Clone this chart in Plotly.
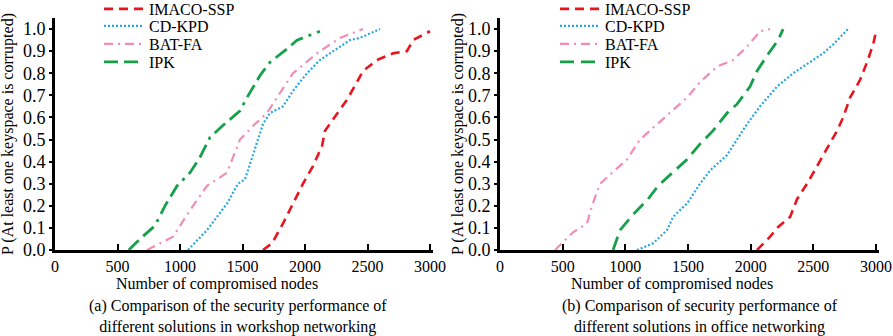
import plotly.graph_objects as go

# ---- data: P(at least one keyspace is corrupted) vs. compromised nodes ----
series_names = ["IMACO-SSP", "CD-KPD", "BAT-FA", "IPK"]

# (a) workshop networking
a_imaco_x = [1664, 1736, 1824, 1904, 1984, 2064, 2136, 2160, 2224, 2336, 2416, 2464, 2576, 2704, 2816, 2864, 3000]
a_imaco_y = [0.00, 0.03, 0.12, 0.21, 0.30, 0.38, 0.47, 0.54, 0.59, 0.68, 0.76, 0.81, 0.86, 0.89, 0.90, 0.95, 0.99]
a_cdkpd_x = [1064, 1216, 1376, 1464, 1520, 1584, 1664, 1720, 1824, 1904, 2016, 2120, 2360, 2440, 2600]
a_cdkpd_y = [0.00, 0.09, 0.21, 0.30, 0.32, 0.43, 0.57, 0.62, 0.65, 0.72, 0.80, 0.86, 0.95, 0.96, 1.00]
a_batfa_x = [736, 944, 1080, 1216, 1376, 1440, 1480, 1600, 1696, 1776, 1904, 2096, 2280, 2464]
a_batfa_y = [0.00, 0.06, 0.18, 0.29, 0.35, 0.44, 0.50, 0.57, 0.62, 0.69, 0.80, 0.89, 0.96, 1.00]
a_ipk_x = [590, 680, 800, 880, 976, 1080, 1160, 1240, 1336, 1480, 1536, 1640, 1720, 1856, 1936, 2120]
a_ipk_y = [0.00, 0.05, 0.11, 0.20, 0.29, 0.35, 0.42, 0.51, 0.56, 0.63, 0.69, 0.79, 0.85, 0.91, 0.95, 0.99]

# (b) office networking
b_imaco_x = [2051, 2155, 2211, 2315, 2370, 2450, 2530, 2622, 2690, 2738, 2793, 2873, 2929, 2977, 3005]
b_imaco_y = [0.00, 0.06, 0.10, 0.15, 0.23, 0.30, 0.38, 0.47, 0.54, 0.60, 0.69, 0.77, 0.85, 0.93, 1.00]
b_cdkpd_x = [1093, 1221, 1333, 1381, 1492, 1596, 1676, 1812, 1891, 1971, 2075, 2211, 2339, 2474, 2578, 2658, 2777]
b_cdkpd_y = [0.00, 0.03, 0.09, 0.15, 0.21, 0.30, 0.36, 0.43, 0.50, 0.57, 0.65, 0.74, 0.80, 0.85, 0.89, 0.93, 1.00]
b_batfa_x = [439, 583, 694, 734, 798, 934, 1014, 1117, 1253, 1413, 1492, 1596, 1732, 1860, 1971, 2075, 2155]
b_batfa_y = [0.00, 0.08, 0.12, 0.20, 0.30, 0.37, 0.41, 0.50, 0.57, 0.65, 0.69, 0.76, 0.83, 0.86, 0.92, 0.99, 1.00]
b_ipk_x = [902, 958, 1061, 1181, 1261, 1380, 1492, 1596, 1700, 1812, 1891, 1995, 2051, 2131, 2219, 2259]
b_ipk_y = [0.00, 0.09, 0.16, 0.23, 0.29, 0.35, 0.41, 0.48, 0.54, 0.62, 0.66, 0.74, 0.81, 0.88, 0.95, 1.00]

x_ticks = [0, 500, 1000, 1500, 2000, 2500, 3000]
y_ticks = [0.0, 0.1, 0.2, 0.3, 0.4, 0.5, 0.6, 0.7, 0.8, 0.9, 1.0]

x_title = "Number of compromised nodes"
y_title = "P (At least one keyspace is corrupted)"
caption_a = "(a) Comparison of the security performance of<br>different solutions in workshop networking"
caption_b = "(b) Comparison of security performance of<br>different solutions in office networking"

# ---- styles ----
FONT = "Liberation Serif"
colors = {"IMACO-SSP": "#e8141e", "CD-KPD": "#2aa5de", "BAT-FA": "#f08cb6", "IPK": "#16a04a"}
widths = {"IMACO-SSP": 2.6, "CD-KPD": 2.2, "BAT-FA": 2.2, "IPK": 2.8}
dashes_a = {"IMACO-SSP": "9px,6px", "CD-KPD": "2px,2px", "BAT-FA": "9px,5px,2px,5px",
            "IPK": "14px,6px,14px,6px,3px,6px"}
dashes_b = {"IMACO-SSP": "9px,6px", "CD-KPD": "2px,2px", "BAT-FA": "9px,5px,2px,5px",
            "IPK": "14px,7px"}

W, H = 893, 336
legend_rows = [9, 26, 44, 62]          # legend row centres, px from top
legend_x = {"a": 99, "b": 555}         # legend left edge, px

panels = [
    ("a", "x", "y", dashes_a,
     [(a_imaco_x, a_imaco_y), (a_cdkpd_x, a_cdkpd_y), (a_batfa_x, a_batfa_y), (a_ipk_x, a_ipk_y)]),
    ("b", "x2", "y2", dashes_b,
     [(b_imaco_x, b_imaco_y), (b_cdkpd_x, b_cdkpd_y), (b_batfa_x, b_batfa_y), (b_ipk_x, b_ipk_y)]),
]

fig = go.Figure()
legends = {}
k = 0
for key, xa, ya, dashes, data in panels:
    for i, (name, (xs, ys)) in enumerate(zip(series_names, data)):
        k += 1
        lg = "legend" if k == 1 else f"legend{k}"
        fig.add_trace(go.Scatter(
            x=xs, y=ys, mode="lines", name=name,
            line=dict(color=colors[name], width=widths[name], dash=dashes[name]),
            xaxis=xa, yaxis=ya, legend=lg,
        ))
        legends[lg] = dict(
            x=legend_x[key] / W, y=1 - legend_rows[i] / H, xanchor="left", yanchor="middle",
            font=dict(family=FONT, size=16, color="black"), bgcolor="rgba(0,0,0,0)",
            itemwidth=40,
        )

y_dom = [1 - 250 / H, 1 - 18 / H]


def xaxis(domain):
    return dict(
        domain=domain, range=[0, 3020], tickvals=x_ticks, ticks="inside", ticklen=6,
        tickwidth=2, tickcolor="black", showline=True, linecolor="black", linewidth=3,
        showgrid=False, zeroline=False, tickfont=dict(family=FONT, size=16, color="black"),
        automargin=False,
    )


def yaxis(anchor):
    return dict(
        domain=y_dom, range=[0, 1.05], tickvals=y_ticks, tickformat=".1f", ticks="outside",
        ticklen=3, tickwidth=2, tickcolor="black", showline=True, linecolor="black",
        linewidth=3, showgrid=False, zeroline=False, anchor=anchor,
        tickfont=dict(family=FONT, size=18, color="black"), automargin=False,
    )


fig.update_layout(
    width=W, height=H, margin=dict(l=0, r=0, t=0, b=0, autoexpand=False),
    paper_bgcolor="white", plot_bgcolor="white",
    font=dict(family=FONT, color="black"),
    xaxis=xaxis([55 / W, 432.5 / W]) | dict(anchor="y"),
    yaxis=yaxis("x"),
    xaxis2=xaxis([500 / W, 878.5 / W]) | dict(anchor="y2"),
    yaxis2=yaxis("x2"),
    showlegend=True,
    **legends,
)

annotations = [
    (8, 134, y_title, -90),
    (458, 134, y_title, -90),
    (217, 284, x_title, 0),
    (672, 284, x_title, 0),
    (238, 316, caption_a, 0),
    (700, 316, caption_b, 0),
]
for px, py, text, ang in annotations:
    fig.add_annotation(
        x=px / W, y=1 - py / H, xref="paper", yref="paper", text=text, showarrow=False,
        textangle=ang, xanchor="center", yanchor="middle",
        font=dict(family=FONT, size=16, color="black"),
    )

fig.write_html("out.html")
